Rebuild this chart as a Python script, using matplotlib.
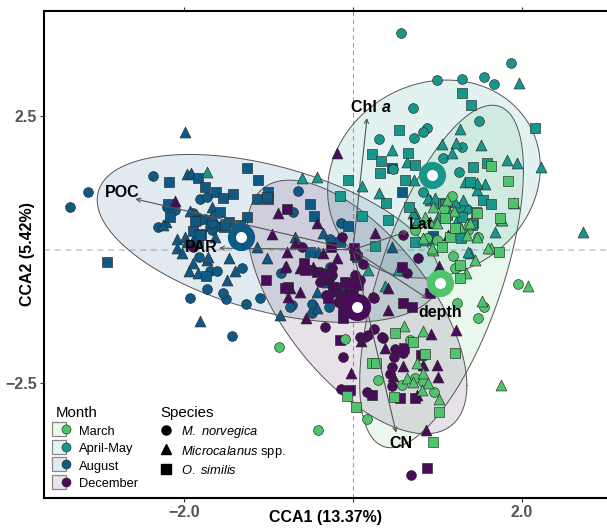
import matplotlib.pyplot as plt
import matplotlib.colors as mcolors
import numpy as np
from matplotlib.lines import Line2D
from matplotlib.legend_handler import HandlerTuple

plt.rcParams['font.family'] = ['Liberation Sans', 'DejaVu Sans']
plt.rcParams['mathtext.fontset'] = 'custom'
plt.rcParams['mathtext.it'] = 'Liberation Sans:italic'
plt.rcParams['mathtext.rm'] = 'Liberation Sans'

# ---- site scores (CCA1, CCA2) per month and species ----
# August
aug_mn = [(-3.35, 0.79), (-3.14, 1.07), (-2.37, 1.37), (-2.31, 0.42), (-1.81, 0.94), (-1.73, 0.98),
          (-1.69, 0.42), (-1.61, 0.44), (-1.93, -0.91), (-1.73, -0.74), (-1.50, -0.93), (-1.27, -1.02),
          (-1.43, -1.62), (-1.69, -0.40), (-1.61, -0.40), (-1.75, 0.57), (-1.85, 0.61), (-0.65, 1.09),
          (-0.71, 0.70), (-0.14, 0.50), (-0.27, 0.20), (-0.85, -0.44), (-0.72, -1.04), (-0.49, -1.02),
          (-0.49, -1.19), (-0.28, -1.07), (-1.10, -0.91), (-1.54, -0.81), (-1.32, -0.35), (-1.82, -0.14),
          (-1.81, 0.55), (-1.67, 0.36), (-2.11, 0.74), (-2.20, 0.79), (-1.90, 0.68), (-1.67, 0.50),
          (-0.49, -0.38), (-0.75, -1.07), (-0.27, -0.33)]
aug_mc = [(-1.99, 2.20), (-1.97, 1.41), (-1.92, 1.43), (-2.22, 0.51), (-2.25, 0.46), (-1.93, 0.72),
          (-1.67, 0.79), (-2.09, 0.03), (-2.03, -0.07), (-1.94, -0.40), (-1.84, -0.44), (-1.73, -0.20),
          (-1.47, -0.16), (-1.40, -0.40), (-1.81, -1.34), (-1.64, 0.23), (-2.09, 0.20), (-1.14, 0.05),
          (-0.36, 0.31), (-0.69, 0.23), (-0.41, -0.05), (-0.31, -0.61), (-0.43, -0.79), (-0.57, -0.35),
          (-1.02, -0.16), (-1.67, 0.64), (-1.90, -0.25), (-1.49, -0.57), (-0.86, -1.22), (0.46, 0.05),
          (-1.99, 0.23), (-1.97, 0.14), (-1.90, 0.18), (-1.72, -0.14), (-0.24, -0.66), (-0.13, -0.66),
          (-0.43, -1.09)]
aug_os = [(-2.91, -0.23), (-2.18, 1.26), (-1.84, 1.34), (-1.75, 1.17), (-1.62, 1.07), (-1.54, 0.96),
          (-1.42, 1.04), (-1.26, 1.52), (-2.19, 0.85), (-2.17, 0.61), (-1.87, 0.53), (-1.90, 0.35),
          (-1.80, 0.29), (-1.74, -0.50), (-1.53, 0.42), (-1.26, 0.61), (-1.13, 1.30), (-1.01, 1.07),
          (-1.01, 0.94), (-1.14, 0.94), (-0.51, 0.85), (-0.46, 0.63), (-1.58, 0.70), (-1.47, 0.51),
          (-1.84, 0.14), (-0.06, 0.44), (-0.15, 0.14), (0.05, -0.14), (0.58, 1.07), (0.46, 1.52),
          (0.95, 0.25), (-1.02, 0.98), (-1.81, 0.27), (-1.34, 0.46), (-1.52, 0.46), (-0.51, -0.05)]

# December
dec_mn = [(-1.90, 0.05), (-0.60, 0.05), (-0.13, 0.23), (0.12, -0.27), (-0.27, -0.51), (-0.36, -0.44),
          (-0.25, -0.35), (-0.19, -0.70), (-0.07, -0.81), (0.00, -0.79), (-0.18, -0.98), (-0.09, -1.00),
          (-0.33, -1.45), (0.14, -1.64), (0.24, -0.89), (0.64, -0.44), (0.77, -0.16), (-0.12, -2.01),
          (-0.14, -2.61), (0.17, -2.66), (0.46, -2.55), (0.50, -1.86), (0.59, -1.93), (0.49, -2.01),
          (0.36, -1.65), (0.25, -1.49), (0.44, -2.33), (0.46, -2.20), (0.69, -4.21), (0.59, 0.27),
          (0.34, -1.64), (0.08, -0.57), (0.02, -0.48), (-0.15, -0.85), (-0.04, -0.94), (-0.32, -0.85),
          (-0.25, -0.48), (-0.39, -0.61), (-0.24, -0.79), (-0.12, -0.94), (0.25, -0.91), (0.08, -1.64),
          (0.18, -1.60)]
dec_mc = [(-2.11, 0.91), (-0.19, 1.80), (-0.89, 0.68), (-0.96, 0.29), (-0.43, 0.50), (-0.69, 0.12),
          (-0.36, -0.07), (-0.79, -0.31), (-0.63, -0.35), (-0.77, -0.89), (-0.63, -0.79), (-0.56, -1.28),
          (0.26, 0.31), (0.42, -0.72), (0.41, -1.13), (-0.19, -0.16), (-0.47, -0.33), (0.09, -1.71),
          (-0.02, -2.31), (0.38, -1.84), (0.59, -2.18), (0.83, -2.16), (1.00, -2.16), (1.01, -2.38),
          (0.92, -1.58), (1.22, -1.50), (0.47, -2.36), (0.76, -2.72), (0.86, -3.37), (1.02, -0.31),
          (1.13, 0.27), (-0.81, -0.33), (-0.75, -0.72), (-0.78, -0.05)]
dec_os = [(-0.78, 0.76), (-0.26, 0.05), (-1.03, -0.57), (-0.58, -0.25), (-0.43, -0.42), (-0.31, -0.57),
          (-0.24, -0.70), (-0.09, -0.61), (0.06, -0.66), (-0.12, -1.13), (-0.12, -1.28), (0.01, 0.03),
          (0.59, -1.00), (0.70, -1.07), (-0.77, -0.70), (-0.15, -1.69), (-0.04, -2.63), (0.23, -2.72),
          (0.81, -1.97), (0.56, -2.78), (0.73, -2.78), (0.88, -4.08), (0.91, -0.81), (0.60, -1.84),
          (0.58, -0.33), (-0.57, -0.38), (-0.36, -0.48), (-0.30, -0.91), (-0.06, -0.63), (0.02, -0.10),
          (-0.81, -0.72)]

# April-May
apr_mn = [(0.57, 4.05), (1.87, 3.49), (1.00, 3.17), (1.29, 3.19), (1.55, 3.22), (1.67, 3.09),
          (0.71, 2.64), (1.49, 2.40), (0.88, 2.27), (0.83, 2.20), (0.31, 2.07), (0.72, 2.08),
          (1.29, 1.92), (1.07, 1.71), (1.26, 1.45), (0.47, 1.50), (0.83, 1.07), (1.35, 0.76),
          (1.27, 0.80)]
apr_mc = [(1.97, 3.11), (1.27, 2.25), (1.05, 1.97), (1.22, 1.99), (1.52, 1.95), (1.17, 1.80),
          (0.46, 1.86), (0.64, 1.64), (0.72, 1.30), (0.11, 1.19), (0.31, 1.06), (1.82, 1.67),
          (1.94, 1.62), (2.23, 1.54), (1.68, 0.33), (1.47, 1.11), (1.56, 1.22), (0.91, 0.93),
          (1.00, 0.87), (1.30, 0.93), (2.73, 0.33), (-0.60, 1.34), (-0.43, 1.36), (0.73, 0.68),
          (-1.73, 1.45), (0.53, -0.38), (0.18, -0.38), (1.39, -0.07), (0.88, 0.21), (1.23, 0.55),
          (1.01, 0.61), (1.36, -0.05), (0.76, 0.55), (0.89, 0.96), (0.97, 0.96), (1.21, 0.89),
          (1.33, 1.26), (1.47, 1.24), (0.71, 0.68), (0.85, 0.18), (0.38, -0.68)]
apr_os = [(1.29, 2.93), (1.40, 2.70), (2.16, 2.27), (0.55, 2.23), (0.23, 1.79), (0.33, 1.65),
          (0.32, 1.43), (-0.06, 1.30), (-0.15, 1.00), (0.11, 0.63), (0.39, 0.87), (0.41, 0.55),
          (0.65, 1.80), (0.73, 1.58), (0.62, 1.30), (0.66, 0.79), (1.42, 1.54), (1.39, 1.26),
          (1.59, 1.62), (1.54, 0.93), (1.64, 0.85), (0.26, 0.07), (0.73, 0.14), (1.28, 0.21),
          (1.42, 0.50), (1.07, 0.87), (1.29, 0.61), (1.41, 0.46), (1.09, 0.85), (1.11, 0.64)]

# March
mar_mn = [(1.17, 1.00), (1.08, 0.76), (1.48, 0.23), (1.36, 0.36), (1.00, 0.18), (1.18, -0.12),
          (1.21, -0.35), (1.95, -0.64), (1.55, -1.07), (1.48, -1.28), (1.23, -1.00), (0.68, -1.69),
          (0.30, -2.44), (0.58, -2.53), (0.73, -2.40), (0.83, -2.48), (0.96, -2.66), (0.17, -3.17),
          (-0.41, -3.36), (-0.88, -1.82), (-0.09, -1.67), (0.88, 0.21), (0.73, 0.36)]
mar_mc = [(1.91, 0.87), (1.75, 0.55), (1.64, 0.03), (0.95, -0.01), (1.47, 0.23), (1.35, 0.48),
          (1.20, 0.72), (1.11, 0.93), (1.27, 0.42), (0.95, 0.79), (0.91, 0.51), (0.83, 0.21),
          (2.07, -0.68), (1.53, -0.96), (1.34, -0.44), (0.60, -1.43), (0.83, -1.52), (0.76, -2.12),
          (0.64, -2.40), (0.71, -2.48), (0.83, -2.31), (0.89, -2.50), (0.82, -2.63), (1.02, -2.79),
          (1.75, -2.53), (0.85, 0.62), (1.00, 0.50), (1.39, 0.50), (1.35, 0.27), (0.94, 0.03),
          (1.60, 0.03), (1.45, -0.20), (1.77, 0.55)]
mar_os = [(1.64, 1.56), (1.84, 1.28), (1.15, 0.23), (1.74, 0.59), (1.46, 0.70), (1.09, 0.59),
          (1.21, 0.40), (1.05, 0.05), (1.73, -0.05), (1.27, -0.53), (0.50, -1.56), (0.71, -1.73),
          (0.23, -2.12), (0.27, -2.12), (0.85, -1.95), (1.21, -1.93), (0.49, -2.76), (1.02, -3.04),
          (0.95, -3.60), (0.04, -2.94), (-0.07, -2.74), (1.90, 0.87), (1.47, 0.68), (1.27, -0.29)]

months = ['March', 'April-May', 'August', 'December']
month_colors = ['#4fc46c', '#17978c', '#0e5a87', '#480b57']
month_points = {
    'March': [mar_mn, mar_mc, mar_os],
    'April-May': [apr_mn, apr_mc, apr_os],
    'August': [aug_mn, aug_mc, aug_os],
    'December': [dec_mn, dec_mc, dec_os],
}
species_markers = ['o', '^', 's']
species_labels = [r'$\mathit{M.\ norvegica}$', r'$\mathit{Microcalanus}$ spp.', r'$\mathit{O.\ similis}$']

# group centroids
cent_x = [1.03, 0.94, -1.33, 0.05]
cent_y = [-0.63, 1.39, 0.23, -1.07]

# 95% ellipses: centre, half-width (x), half-height (y), correlation
ell_cx = [1.05, 0.96, -1.00, 0.05]
ell_cy = [-0.50, 1.32, 0.21, -1.07]
ell_rx = [0.97, 1.26, 2.03, 1.30]
ell_ry = [3.20, 1.85, 1.57, 2.37]
ell_rho = [0.62, 0.12, -0.46, -0.62]

# environmental vectors
env_names = ['POC', 'PAR', 'Chl', 'Lat', 'depth', 'CN']
env_x = [-2.61, -1.62, 0.17, 0.68, 0.91, 0.52]
env_y = [0.96, 0.03, 2.51, 0.36, -0.94, -3.47]
env_lab_x = [-2.73, -1.80, 0.34, 0.80, 1.03, 0.57]
env_lab_y = [1.06, 0.05, 2.66, 0.48, -1.17, -3.62]

xticks = [-2.0, 0.0, 2.0]
xtick_labels = ['\u22122.0', '', '2.0']
yticks = [-2.5, 2.5]
ytick_labels = ['\u22122.5', '2.5']

fig = plt.figure(figsize=(6.07, 5.28), dpi=100)
ax = fig.add_axes([0.0725, 0.0568, 0.9275, 0.9223])

ax.axhline(0, color='#c8c8c8', lw=1.1, ls=(0, (4, 3)), zorder=0)
ax.axvline(0, color='#a0a0a0', lw=0.8, ls=(0, (4, 3)), zorder=0)

# ellipses
t = np.linspace(0, 2 * np.pi, 300)
for i, m in enumerate(months):
    ex = ell_cx[i] + ell_rx[i] * np.cos(t)
    ey = ell_cy[i] + ell_ry[i] * (ell_rho[i] * np.cos(t) + np.sqrt(1 - ell_rho[i] ** 2) * np.sin(t))
    ax.fill(ex, ey, facecolor=month_colors[i], alpha=0.12, edgecolor='none', zorder=1)
    ax.plot(ex, ey, color='#555555', lw=0.7, zorder=1.5)

# points
sizes = {'o': 50, '^': 62, 's': 46}
draw_order = ['August', 'April-May', 'December', 'March']
for m in draw_order:
    c = month_colors[months.index(m)]
    for pts, mk in zip(month_points[m], species_markers):
        arr = np.array(pts)
        ax.scatter(arr[:, 0], arr[:, 1], marker=mk, s=sizes[mk], facecolor=c,
                   edgecolor='#2a2a2a', linewidth=0.45, zorder=3)

# environmental arrows
for i, name in enumerate(env_names):
    ax.annotate('', xy=(env_x[i], env_y[i]), xytext=(0, 0),
                arrowprops=dict(arrowstyle='->,head_length=0.3,head_width=0.15',
                                color='#555555', lw=0.8), zorder=4)
    if name == 'Chl':
        ax.text(env_lab_x[i], env_lab_y[i], 'Chl ', ha='right', va='center',
                fontsize=11.5, fontweight='bold', zorder=6)
        ax.text(env_lab_x[i], env_lab_y[i], 'a', ha='left', va='center',
                fontsize=11.5, fontweight='bold', style='italic', zorder=6)
    else:
        ax.text(env_lab_x[i], env_lab_y[i], name, ha='center', va='center',
                fontsize=11.5, fontweight='bold', zorder=6)

# centroids
for i, m in enumerate(months):
    ax.scatter(cent_x[i], cent_y[i], s=190, marker='o', facecolor='white',
               edgecolor=month_colors[i], linewidth=5.8, zorder=5)

ax.set_xlim(-3.66, 3.01)
ax.set_ylim(-4.64, 4.46)
ax.set_xticks(xticks, labels=xtick_labels)
ax.set_yticks(yticks, labels=ytick_labels)
ax.tick_params(axis='both', colors='#333333', labelcolor='#555555', length=3, width=0.8,
               labelsize=11.5, top=True, pad=2)
for lab in ax.get_xticklabels() + ax.get_yticklabels():
    lab.set_fontweight('bold')
ax.spines['right'].set_visible(False)
for s in ['left', 'bottom', 'top']:
    ax.spines[s].set_linewidth(1.5)

ax.set_xlabel('CCA1 (13.37%)', fontsize=11.5, fontweight='bold', va='center')
ax.set_ylabel('CCA2 (5.42%)', fontsize=11.5, fontweight='bold', va='center')
ax.xaxis.set_label_coords(0.5, -0.04)
ax.yaxis.set_label_coords(-0.03, 0.5)

# legends
month_handles = []
for i, m in enumerate(months):
    rgb = np.array(mcolors.to_rgb(month_colors[i]))
    light = 1 - 0.12 * (1 - rgb)
    box = Line2D([], [], marker='s', ls='', markersize=10.5, markerfacecolor=light,
                 markeredgecolor='#888888', markeredgewidth=0.9)
    dot = Line2D([], [], marker='o', ls='', markersize=6.5, markerfacecolor=month_colors[i],
                 markeredgecolor='#2a2a2a', markeredgewidth=0.45)
    month_handles.append((box, dot))
leg1 = ax.legend(month_handles, months, title='Month', loc='upper left',
                 bbox_to_anchor=(0.02, 0.188), frameon=False, fontsize=9.3,
                 title_fontsize=10.8, handlelength=1.1, handleheight=1.15,
                 handletextpad=0.75, labelspacing=0.28, borderpad=0, borderaxespad=0,
                 alignment='left', handler_map={tuple: HandlerTuple(ndivide=None, pad=0)})
ax.add_artist(leg1)

sp_handles = [Line2D([], [], marker=mk, ls='', color='black', markersize=6.5 if mk != '^' else 7.5)
              for mk in species_markers]
leg2 = ax.legend(sp_handles, species_labels, title='Species', loc='upper left',
                 bbox_to_anchor=(0.206, 0.188), frameon=False, fontsize=9.3,
                 title_fontsize=10.8, handlelength=1.0, handleheight=1.15,
                 handletextpad=0.6, labelspacing=0.28, borderpad=0, borderaxespad=0,
                 alignment='left')

fig.savefig('out.png', dpi=100)
